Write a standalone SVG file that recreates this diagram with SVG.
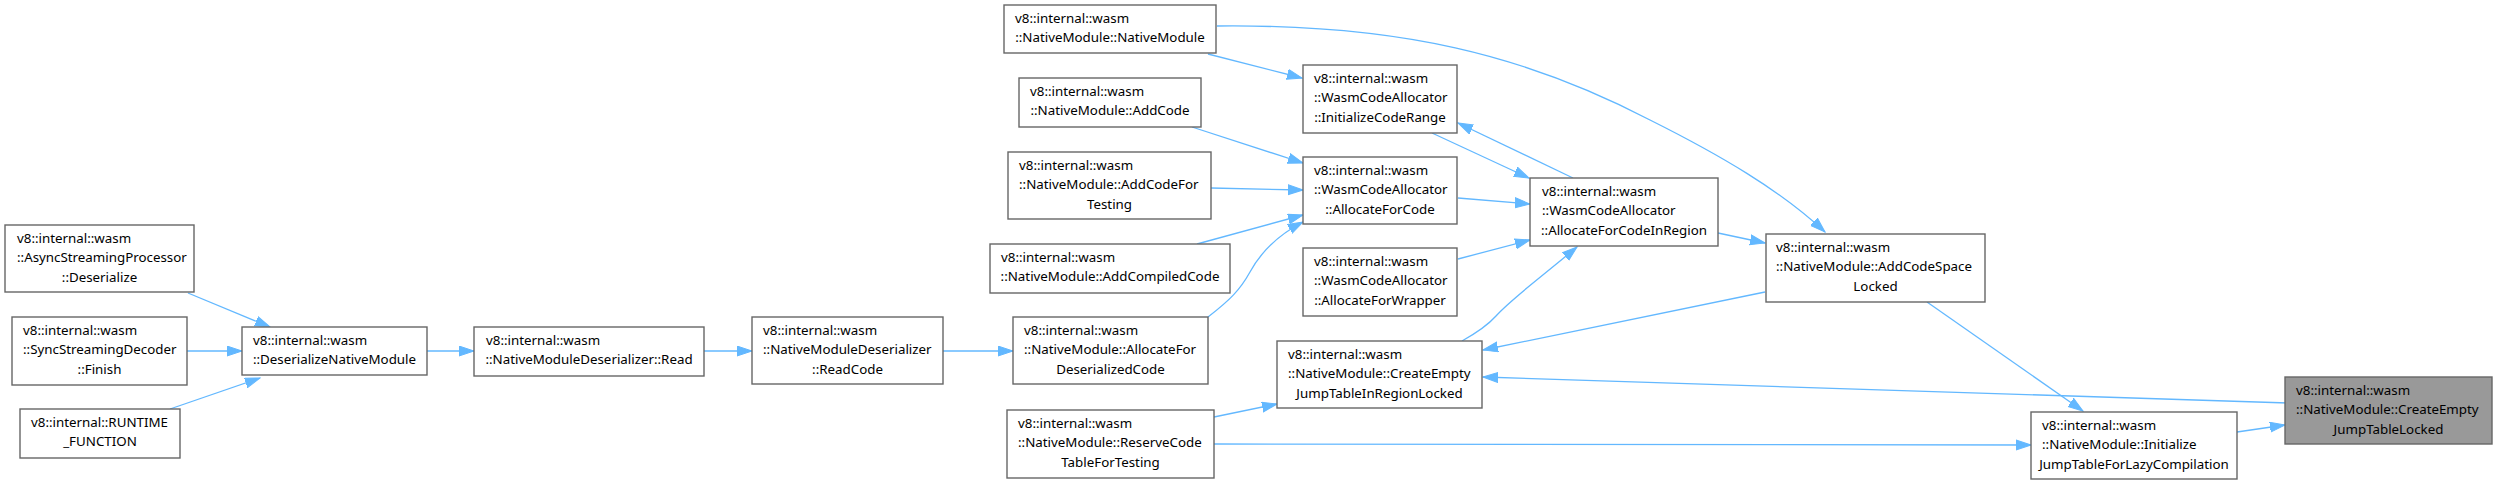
<svg xmlns="http://www.w3.org/2000/svg" width="2495" height="485" viewBox="0 0 2495 485">
<defs>
<style>
.n rect{fill:#ffffff;stroke:#666666;stroke-width:1.4}
.n.hl rect{fill:#999999}
.n text{font-family:"Noto Sans","DejaVu Sans",sans-serif;font-size:13.33px;fill:#000000}
.n text.c{text-anchor:middle}
.e path{fill:none;stroke:#63b8ff;stroke-width:1.3;marker-end:url(#ah)}
</style>
<marker id="ah" markerUnits="userSpaceOnUse" markerWidth="16" markerHeight="12" refX="15" refY="5.5" orient="auto">
<path d="M0,0.5 L15,5.5 L0,10.5 z" fill="#63b8ff" stroke="#63b8ff" stroke-width="1"/>
</marker>
</defs>
<rect x="0" y="0" width="2495" height="485" fill="#ffffff"/>
<g id="connectors" class="e">
<path d="M188,293 L270,327"/>
<path d="M187,351 L242,351"/>
<path d="M170,409 L260,378"/>
<path d="M427,351 L474,351"/>
<path d="M704,351 L752,351"/>
<path d="M943,351 L1013,351"/>
<path d="M1208,317 C1230,300 1240,290 1250,272 C1262,250 1280,234 1303,222"/>
<path d="M1208,54 L1302,78"/>
<path d="M1217,26 C1400,24 1525,55 1650,120 C1720,155 1780,190 1825,232"/>
<path d="M1192,127 L1303,163"/>
<path d="M1211,188 L1303,190"/>
<path d="M1197,244 L1303,215"/>
<path d="M1432,133 L1529,178"/>
<path d="M1573,178 L1458,123"/>
<path d="M1458,198 L1530,204"/>
<path d="M1458,259 L1530,240"/>
<path d="M1462,341 C1478,332 1488,325 1496,316 C1510,300 1540,278 1577,247"/>
<path d="M1718,233 L1765,243"/>
<path d="M1765,292 L1483,350"/>
<path d="M2288,403 L1483,377"/>
<path d="M1214,417 L1277,404"/>
<path d="M1214,444 L2031,445"/>
<path d="M1927,302 L2083,411"/>
<path d="M2237,432 L2285,425"/>
</g>
<g id="n_async" class="n"><rect x="5" y="225" width="189" height="67"/><text x="17" y="243">v8::internal::wasm</text><text x="17" y="262.3">::AsyncStreamingProcessor</text><text class="c" x="99.5" y="281.5">::Deserialize</text></g>
<g id="n_sync" class="n"><rect x="12" y="317" width="175" height="68"/><text x="23" y="335">v8::internal::wasm</text><text x="23" y="354.3">::SyncStreamingDecoder</text><text class="c" x="99.5" y="373.5">::Finish</text></g>
<g id="n_runtime" class="n"><rect x="20" y="409" width="160" height="49"/><text x="31" y="427">v8::internal::RUNTIME</text><text class="c" x="100" y="446.3">_FUNCTION</text></g>
<g id="n_dnm" class="n"><rect x="242" y="327" width="185" height="48"/><text x="253" y="345">v8::internal::wasm</text><text class="c" x="334.5" y="364.3">::DeserializeNativeModule</text></g>
<g id="n_read" class="n"><rect x="474" y="327" width="230" height="49"/><text x="486" y="345">v8::internal::wasm</text><text class="c" x="589" y="364.3">::NativeModuleDeserializer::Read</text></g>
<g id="n_readcode" class="n"><rect x="752" y="317" width="191" height="67"/><text x="763" y="335">v8::internal::wasm</text><text x="763" y="354.3">::NativeModuleDeserializer</text><text class="c" x="847.5" y="373.5">::ReadCode</text></g>
<g id="n_afdc" class="n"><rect x="1013" y="317" width="195" height="67"/><text x="1024" y="335">v8::internal::wasm</text><text x="1024" y="354.3">::NativeModule::AllocateFor</text><text class="c" x="1110.5" y="373.5">DeserializedCode</text></g>
<g id="n_nmnm" class="n"><rect x="1004" y="5" width="212" height="48"/><text x="1015" y="23">v8::internal::wasm</text><text class="c" x="1110" y="42.3">::NativeModule::NativeModule</text></g>
<g id="n_addcode" class="n"><rect x="1019" y="78" width="182" height="49"/><text x="1030" y="96">v8::internal::wasm</text><text class="c" x="1110" y="115.3">::NativeModule::AddCode</text></g>
<g id="n_addcodetest" class="n"><rect x="1008" y="152" width="203" height="67"/><text x="1019" y="170">v8::internal::wasm</text><text x="1019" y="189.3">::NativeModule::AddCodeFor</text><text class="c" x="1109.5" y="208.5">Testing</text></g>
<g id="n_addcompiled" class="n"><rect x="990" y="244" width="240" height="49"/><text x="1001" y="262">v8::internal::wasm</text><text class="c" x="1110" y="281.3">::NativeModule::AddCompiledCode</text></g>
<g id="n_initrange" class="n"><rect x="1303" y="65" width="154" height="68"/><text x="1314" y="83">v8::internal::wasm</text><text x="1314" y="102.3">::WasmCodeAllocator</text><text class="c" x="1380" y="121.5">::InitializeCodeRange</text></g>
<g id="n_afc" class="n"><rect x="1303" y="157" width="154" height="67"/><text x="1314" y="175">v8::internal::wasm</text><text x="1314" y="194.3">::WasmCodeAllocator</text><text class="c" x="1380" y="213.5">::AllocateForCode</text></g>
<g id="n_afw" class="n"><rect x="1303" y="248" width="154" height="68"/><text x="1314" y="266">v8::internal::wasm</text><text x="1314" y="285.3">::WasmCodeAllocator</text><text class="c" x="1380" y="304.5">::AllocateForWrapper</text></g>
<g id="n_afcir" class="n"><rect x="1530" y="178" width="188" height="68"/><text x="1542" y="196">v8::internal::wasm</text><text x="1542" y="215.3">::WasmCodeAllocator</text><text class="c" x="1624" y="234.5">::AllocateForCodeInRegion</text></g>
<g id="n_cejtir" class="n"><rect x="1277" y="341" width="205" height="67"/><text x="1288" y="359">v8::internal::wasm</text><text x="1288" y="378.3">::NativeModule::CreateEmpty</text><text class="c" x="1379.5" y="397.5">JumpTableInRegionLocked</text></g>
<g id="n_reserve" class="n"><rect x="1007" y="410" width="207" height="68"/><text x="1018" y="428">v8::internal::wasm</text><text x="1018" y="447.3">::NativeModule::ReserveCode</text><text class="c" x="1110.5" y="466.5">TableForTesting</text></g>
<g id="n_acsl" class="n"><rect x="1766" y="234" width="219" height="68"/><text x="1776" y="252">v8::internal::wasm</text><text x="1776" y="271.3">::NativeModule::AddCodeSpace</text><text class="c" x="1875.5" y="290.5">Locked</text></g>
<g id="n_ijtflc" class="n"><rect x="2031" y="412" width="206" height="67"/><text x="2042" y="430">v8::internal::wasm</text><text x="2042" y="449.3">::NativeModule::Initialize</text><text class="c" x="2134" y="468.5">JumpTableForLazyCompilation</text></g>
<g id="n_cejtl" class="n hl"><rect x="2285" y="377" width="207" height="67"/><text x="2296" y="395">v8::internal::wasm</text><text x="2296" y="414.3">::NativeModule::CreateEmpty</text><text class="c" x="2388.5" y="433.5">JumpTableLocked</text></g>
</svg>
